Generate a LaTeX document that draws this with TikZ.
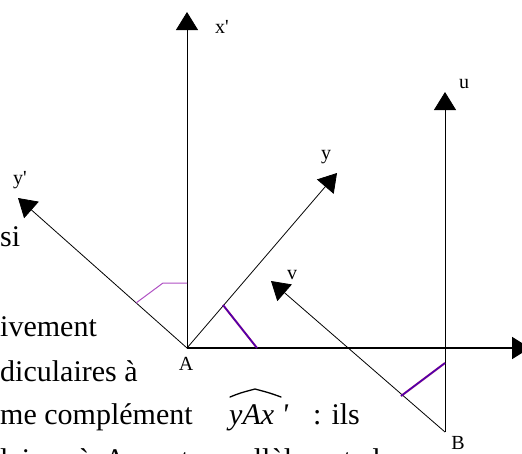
\documentclass[tikz,border=0pt]{standalone}
\usepackage{fontspec}
\setmainfont{Liberation Serif}
\newfontfamily\plainserif{Liberation Serif}
\usetikzlibrary{arrows.meta}

\definecolor{markpurple}{RGB}{128,0,128}
\definecolor{lightpurple}{RGB}{175,80,195}

\tikzset{
  axis/.style={black, line width=0.8pt, -{Triangle[length=18pt,width=22pt]}},
  anglemark/.style={markpurple, line width=2pt, postaction={draw, blue!70!markpurple, line width=0.5pt}},
  thinanglemark/.style={lightpurple, line width=1pt},
}

\begin{document}
\begin{tikzpicture}[x=1pt,y=-1pt]
\clip (0,0) rectangle (522,453);
% points and arrow tips
\coordinate (A)  at (187,348);
\coordinate (B)  at (445,432);
\coordinate (xp) at (187,12);
\coordinate (yp) at (18,198);
\coordinate (ya) at (337,173);
\coordinate (u)  at (445,92);
\coordinate (v)  at (271,281);
\coordinate (xa) at (530,348);
% axes from A and from B
\foreach \tip in {xp,yp,ya}
  \draw [axis] (A) -- (\tip);
\draw [axis, line width=1.8pt] (A) -- (xa);
\foreach \tip in {u,v}
  \draw [axis] (B) -- (\tip);
% angle marks
\draw [thinanglemark] (136,303) -- (163,283) -- (187,283);
\draw [anglemark] (223,305) -- (257,348);
\draw [anglemark] (401,396) -- (445,363);
\begin{scope}[every node/.style={font=\plainserif\fontsize{20}{24}\selectfont, inner sep=0pt}]
\node (lblxp) at (222,27)  {x'};
\node (lblyp) at (20,180)  {y'};
\node (lbly)  at (326,157) {y};
\node (lblu)  at (464,84)  {u};
\node (lblv)  at (292,275) {v};
\node (lblA)  at (186,364) {A};
\node (lblB)  at (458,443) {B};
\end{scope}
\begin{scope}[every node/.style={font=\fontsize{30}{36}\selectfont, inner sep=0pt, anchor=base west}]
\node (si)    at (0,246) {si};
\node (ivem)  at (0,336) {ivement};
\node (dicul) at (0,381) {diculaires à};
\node (compl) at (0,424) {me complément};
\node (yax)   at (229,424) {\plainserif\itshape yAx '};
\node (ils)   at (313,424) {: ils};
\node (lair)  at (0,469) {\spaceskip=13pt laires à A sont parallèles et de};
\end{scope}
% hat over yAx'
\draw [line width=1.3pt, line cap=round] (230,397) .. controls (240,393) .. (255,389)
  .. controls (270,393) .. (281,397);
\end{tikzpicture}
\end{document}
